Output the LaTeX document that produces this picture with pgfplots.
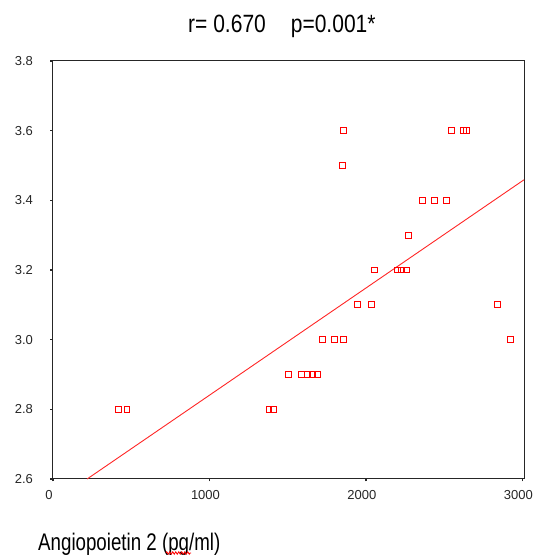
\documentclass[border=0pt]{standalone}
\usepackage{fontspec}
\setmainfont{Liberation Sans}
\newfontfamily\titlefont[FakeStretch=0.84]{Liberation Sans}
\newfontfamily\labelfont[FakeStretch=0.78]{Liberation Sans}
\usepackage{pgfplots}
\pgfplotsset{compat=1.18}
\usetikzlibrary{decorations.pathmorphing}
\definecolor{pred}{RGB}{255,0,0}
\begin{document}
\begin{tikzpicture}[x=1pt,y=1pt]
\useasboundingbox (0,0) rectangle (541,560);
\begin{axis}[
  at={(53pt,81pt)}, anchor=south west,
  scale only axis, width=471pt, height=418pt,
  xmin=0, xmax=3010, ymin=2.6, ymax=3.8,
  xtick={0,1000,2000,3000},
  xticklabels={0,1000,2000,3000},
  ytick={2.6,2.8,3.0,3.2,3.4,3.6,3.8},
  yticklabels={2.6,2.8,3.0,3.2,3.4,3.6,3.8},
  tick label style={font=\fontsize{13}{15}\selectfont, text=black!85},
  yticklabel style={xshift=-14pt},
  xticklabel style={yshift=-5pt, xshift=-4pt},
  tick align=outside, major tick length=2.5pt,
  tick style={line width=1.2pt, black!85},
  xtick pos=bottom, ytick pos=left,
  axis line style={line width=1pt, black!85},
  title={\titlefont\fontsize{25}{28}\selectfont r= 0.670\hspace{25pt}p=0.001*},
  title style={at={(axis description cs:0.486,1.055)}, anchor=base, inner sep=0pt},
  xlabel={\labelfont\fontsize{24}{27}\selectfont Angiopoietin 2 (pg/ml)},
  xlabel style={at={(axis description cs:-0.0318,-0.170)}, anchor=base west, inner sep=0pt},
  clip=false,
]
\addplot[pred!85, line width=0.9pt, no marks] coordinates {(218,2.6) (3010,3.459)};
\addplot[color=pred, only marks, mark=square, mark size=2.9pt, mark options={draw=pred, line width=1pt}] coordinates {
(418,2.8) (473,2.8) (1380,2.8) (1410,2.8)
(1504,2.9) (1587,2.9) (1625,2.9) (1657,2.9) (1689,2.9)
(1721,3.0) (1798,3.0) (1855,3.0) (2922,3.0)
(1945,3.1) (2035,3.1) (2841,3.1)
(2054,3.2) (2201,3.2) (2227,3.2) (2258,3.2)
(2271,3.3)
(2361,3.4) (2438,3.4) (2514,3.4)
(1849,3.5)
(1855,3.6) (2546,3.6) (2623,3.6) (2642,3.6)
};
\end{axis}
\draw[red, line width=0.8pt, decorate, decoration={zigzag, amplitude=1.2pt, segment length=3pt}] (166,7) -- (191,7);
\end{tikzpicture}
\end{document}
